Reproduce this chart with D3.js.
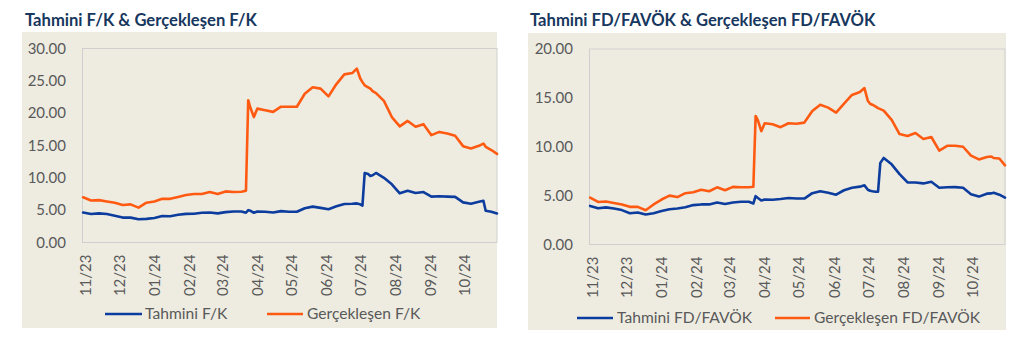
<!DOCTYPE html>
<html><head><meta charset="utf-8">
<script src="https://cdn.jsdelivr.net/npm/d3@7"></script>
<style>
body{margin:0;background:#fff;}
svg text{font-family:Lato,"Open Sans",sans-serif;}
</style>
</head><body>
<svg id="c" width="1024" height="347"></svg>
<script>
const dates = ["2023-10-30","2023-11-06","2023-11-13","2023-11-20","2023-11-27","2023-12-04","2023-12-11","2023-12-18","2023-12-25","2024-01-01","2024-01-08","2024-01-15","2024-01-22","2024-01-29","2024-02-05","2024-02-12","2024-02-19","2024-02-26","2024-03-04","2024-03-11","2024-03-18","2024-03-22","2024-03-24","2024-03-26","2024-03-29","2024-04-01","2024-04-08","2024-04-15","2024-04-22","2024-04-29","2024-05-06","2024-05-13","2024-05-20","2024-05-27","2024-06-03","2024-06-10","2024-06-17","2024-06-24","2024-06-28","2024-07-01","2024-07-03","2024-07-05","2024-07-08","2024-07-10","2024-07-12","2024-07-15","2024-07-22","2024-07-29","2024-08-05","2024-08-12","2024-08-19","2024-08-26","2024-09-02","2024-09-09","2024-09-16","2024-09-23","2024-09-30","2024-10-07","2024-10-14","2024-10-18","2024-10-20","2024-10-25","2024-10-30"];

const tahminiFK = [4.64,4.4,4.5,4.4,4.15,3.85,3.85,3.6,3.65,3.8,4.1,4.07,4.3,4.43,4.45,4.6,4.64,4.5,4.7,4.8,4.8,4.6,5.0,4.9,4.6,4.8,4.75,4.65,4.85,4.75,4.75,5.3,5.55,5.35,5.15,5.6,5.95,6.0,6.05,5.9,5.7,10.75,10.6,10.3,10.4,10.75,10.0,9.0,7.6,8.0,7.65,7.8,7.1,7.15,7.1,7.05,6.2,6.0,6.3,6.45,4.9,4.75,4.5];
const gerceklesenFK = [7.0,6.5,6.55,6.35,6.15,5.8,5.9,5.4,6.15,6.35,6.75,6.75,7.05,7.35,7.5,7.5,7.8,7.5,7.9,7.8,7.85,8.0,22.0,20.8,19.4,20.7,20.45,20.2,21.0,21.0,21.0,23.0,24.0,23.8,22.6,24.5,26.0,26.2,26.9,25.4,24.8,24.3,24.0,23.8,23.4,23.1,21.9,19.4,17.95,18.8,17.9,18.3,16.6,17.1,16.85,16.5,14.9,14.55,14.95,15.3,14.8,14.3,13.7];
const tahminiFD = [3.95,3.7,3.8,3.68,3.52,3.2,3.28,3.07,3.2,3.42,3.6,3.69,3.82,4.03,4.1,4.1,4.3,4.15,4.3,4.37,4.37,4.2,4.95,4.75,4.5,4.6,4.58,4.65,4.75,4.7,4.7,5.25,5.45,5.3,5.1,5.55,5.8,5.92,6.05,5.6,5.5,5.45,5.4,5.4,8.35,8.85,8.2,7.2,6.35,6.35,6.25,6.42,5.8,5.85,5.87,5.8,5.15,4.9,5.2,5.23,5.3,5.1,4.8];
const gerceklesenFD = [4.8,4.35,4.4,4.25,4.1,3.85,3.85,3.5,4.1,4.6,5.0,4.85,5.25,5.35,5.6,5.45,5.85,5.55,5.9,5.85,5.85,5.9,13.15,12.7,11.6,12.4,12.3,12.0,12.4,12.35,12.47,13.65,14.3,14.0,13.5,14.4,15.3,15.6,16.0,14.7,14.4,14.3,14.1,13.95,13.85,13.7,12.75,11.3,11.1,11.4,10.8,11.0,9.6,10.1,10.1,10.0,9.1,8.7,8.95,9.0,8.85,8.8,8.1];

const monthTicks = ["2023-11-01","2023-12-01","2024-01-01","2024-02-01","2024-03-01","2024-04-01","2024-05-01","2024-06-01","2024-07-01","2024-08-01","2024-09-01","2024-10-01"];
const monthLabels = ["11/23","12/23","01/24","02/24","03/24","04/24","05/24","06/24","07/24","08/24","09/24","10/24"];
const fkTicks = [0,5,10,15,20,25,30];
const fdTicks = [0,5,10,15,20];
const domainDates = ["2023-10-29","2024-10-30"];

const parse = d3.timeParse("%Y-%m-%d");
const BLUE = "#0c3c9e", ORANGE = "#ff5a12", GRAY = "#595959";
const svg = d3.select("#c");

const charts = [
  {title:"Tahmini F/K & Gerçekleşen F/K", titleX:25, panel:[22,32,497,328], plot:[82,48.5,497,242.5],
   ticks:fkTicks, s1:tahminiFK, s2:gerceklesenFK, n1:"Tahmini F/K", n2:"Gerçekleşen F/K",
   leg:{y:314, l1:[105,142], t1:145, l2:[267,303], t2:307}},
  {title:"Tahmini FD/FAVÖK & Gerçekleşen FD/FAVÖK", titleX:530, panel:[528,33,1006,330], plot:[589,49,1005,244.5],
   ticks:fdTicks, s1:tahminiFD, s2:gerceklesenFD, n1:"Tahmini FD/FAVÖK", n2:"Gerçekleşen FD/FAVÖK",
   leg:{y:318, l1:[577,613], t1:617, l2:[775,810], t2:814}}
];

charts.forEach(c => {
  const [px0,py0,px1,py1] = c.panel;
  const [x0,y0,x1,y1] = c.plot;
  svg.append("text").attr("x",c.titleX).attr("y",26).attr("font-size",16.6).attr("font-weight","bold")
     .attr("fill","#17375e").text(c.title);
  svg.append("rect").attr("x",px0).attr("y",py0).attr("width",px1-px0).attr("height",py1-py0).attr("fill","#eeece1");
  const x = d3.scaleTime().domain(domainDates.map(parse)).range([x0,x1]);
  const y = d3.scaleLinear().domain([0,d3.max(c.ticks)]).range([y1,y0]);
  svg.append("rect").attr("x",x0+0.5).attr("y",y0).attr("width",x1-x0-0.5).attr("height",y1-y0)
     .attr("fill","none").attr("stroke","#cfcfcf").attr("stroke-width",1);

  const ya = svg.append("g").attr("transform",`translate(${x0},0)`)
     .call(d3.axisLeft(y).tickValues(c.ticks).tickFormat(d3.format(".2f")).tickSize(0).tickPadding(16));
  ya.select(".domain").remove();
  ya.selectAll("text").attr("font-size",15).attr("fill",GRAY).attr("font-family",null);

  const xa = svg.append("g").attr("transform",`translate(0,${y1})`)
     .call(d3.axisBottom(x).tickValues(monthTicks.map(parse)).tickFormat((d,i)=>monthLabels[i]).tickSize(0));
  xa.select(".domain").remove();
  xa.selectAll("text").attr("font-size",15).attr("fill",GRAY).attr("font-family",null)
     .attr("transform","rotate(-90)").attr("text-anchor","end").attr("x",-12).attr("y",0).attr("dy","0.35em");

  const line = d3.line().x((d,i)=>x(parse(dates[i]))).y(d=>y(d));
  [[c.s1,BLUE],[c.s2,ORANGE]].forEach(([s,col]) => {
    svg.append("path").datum(s).attr("d",line).attr("fill","none").attr("stroke",col)
       .attr("stroke-width",2.6).attr("stroke-linejoin","round").attr("stroke-linecap","round");
  });

  const L = c.leg;
  [[L.l1,L.t1,BLUE,c.n1],[L.l2,L.t2,ORANGE,c.n2]].forEach(([l,t,col,name]) => {
    svg.append("line").attr("x1",l[0]).attr("x2",l[1]).attr("y1",L.y).attr("y2",L.y)
       .attr("stroke",col).attr("stroke-width",2.5);
    svg.append("text").attr("x",t).attr("y",L.y).attr("dy","0.35em").attr("font-size",15.6)
       .attr("fill",GRAY).text(name);
  });
});
</script>
</body></html>
